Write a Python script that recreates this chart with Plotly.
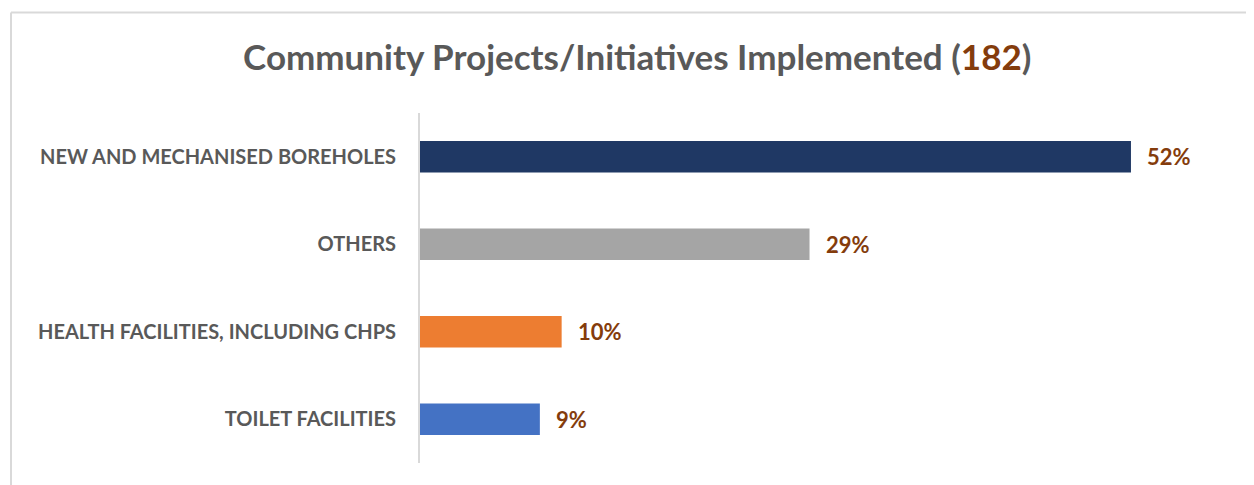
import plotly.graph_objects as go

# Share of the 182 community projects, by type (percent)
categories = ["NEW AND MECHANISED BOREHOLES", "OTHERS",
              "HEALTH FACILITIES, INCLUDING CHPS", "TOILET FACILITIES"]
shares = [52.2, 28.6, 10.4, 8.8]
labels = ["52%", "29%", "10%", "9%"]
colors = ["#1f3864", "#a5a5a5", "#ed7d31", "#4472c4"]
total = 182

# page body has an 8px margin, so the figure is 8px smaller than the window
W, H = 1246, 477
ml, mr, mt, mb = 412, 6, 105, 22
pw, ph = W - ml - mr, H - mt - mb

FONT = "Lato, Open Sans, sans-serif"

fig = go.Figure()

fig.add_trace(go.Bar(
    x=shares,
    y=categories,
    orientation="h",
    marker=dict(color=colors, line=dict(width=0)),
    hoverinfo="x+y",
))

# value labels to the right of each bar
for cat, val, lab in zip(categories, shares, labels):
    fig.add_annotation(
        x=val, y=cat, text=f"<b>{lab}</b>", showarrow=False,
        xanchor="left", xshift=14,
        font=dict(family=FONT, size=22, color="#843c0c"),
    )

# chart border (top and left edges visible)
border = dict(color="#d9d9d9", width=2)
x_left = (3 - ml) / pw
y_top = (H - mb - 4.5) / ph
fig.add_shape(type="line", xref="paper", yref="paper",
              x0=x_left, x1=1.1, y0=y_top, y1=y_top, line=border)
fig.add_shape(type="line", xref="paper", yref="paper",
              x0=x_left, x1=x_left, y0=y_top, y1=-0.2, line=border)

fig.update_layout(
    width=W, height=H,
    margin=dict(l=ml, r=mr, t=mt, b=mb),
    paper_bgcolor="white",
    plot_bgcolor="white",
    showlegend=False,
    bargap=0.64,
    title=dict(
        text=f"<b>Community Projects/Initiatives Implemented (<span style='color:#843c0c'>{total}</span>)</b>",
        x=0.505, xanchor="center", y=1 - 50 / H, yanchor="middle",
        font=dict(family=FONT, size=35, color="#595959"),
    ),
    xaxis=dict(range=[0, pw / 13.62], visible=False, fixedrange=True),
    yaxis=dict(
        autorange="reversed",
        showline=True, linecolor="#d9d9d9", linewidth=2,
        showgrid=False, zeroline=False, ticks="",
        ticklabelstandoff=18,
        tickfont=dict(family=FONT, size=20, color="#595959", weight="bold"),
    ),
)

fig.write_html("out.html")
